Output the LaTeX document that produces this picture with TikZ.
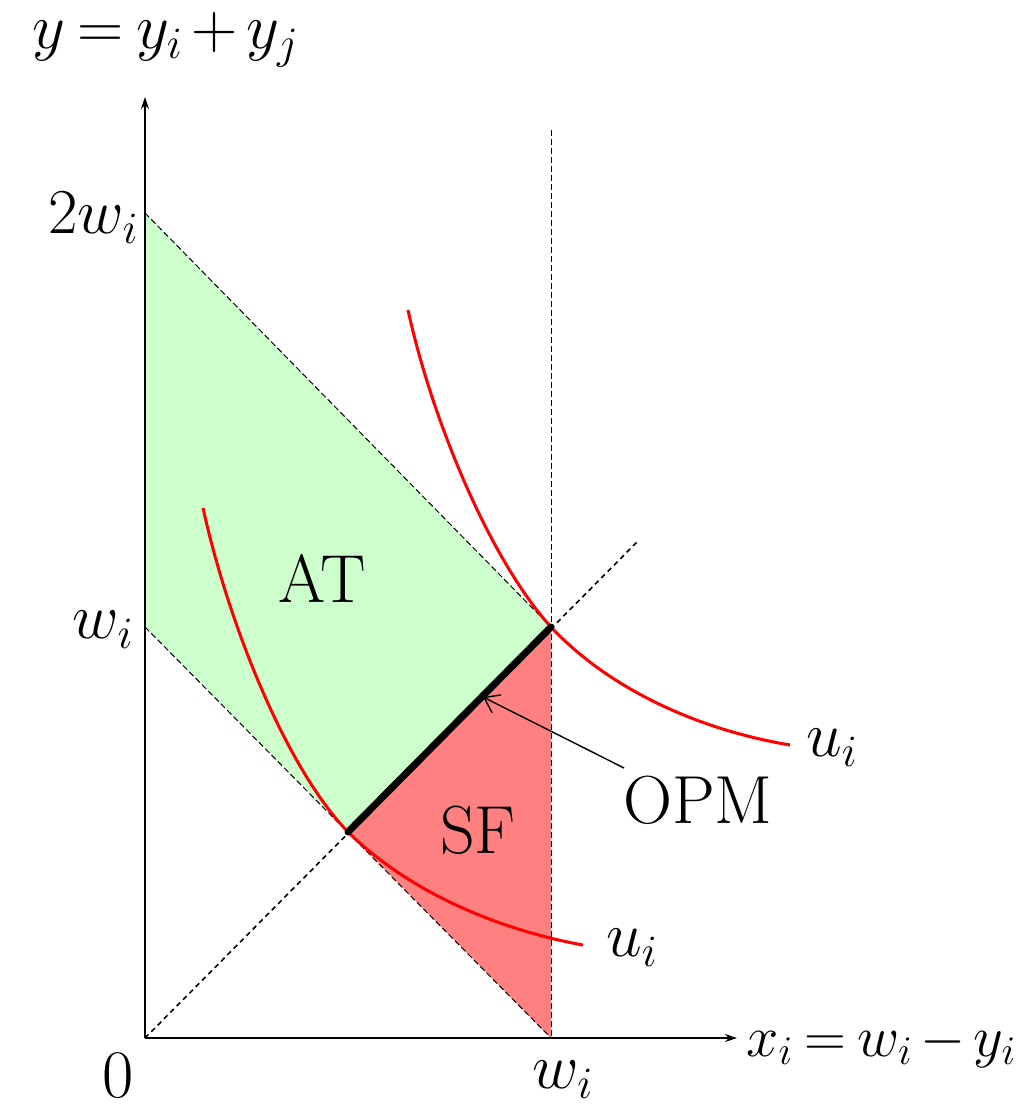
\RequirePackage{fix-cm}
\documentclass[tikz,border=0pt]{standalone}
\usetikzlibrary{arrows.meta}
\definecolor{atgreen}{RGB}{204,255,204}
\definecolor{sfred}{RGB}{255,128,128}
\newcommand{\tightmath}{\thickmuskip=3.5mu\relax\medmuskip=2.5mu\relax}
\begin{document}
\begin{tikzpicture}[x=0.5pt,y=-0.5pt,
  lbl/.style={font=\fontsize{34}{40}\selectfont, inner sep=0pt},
  mlbl/.style={font=\fontsize{32}{38}\selectfont, inner sep=0pt},
  axis/.style={black, line width=0.6pt, -{Stealth[length=6pt,width=4pt]}},
  guide/.style={black, line width=0.5pt, dash pattern=on 3pt off 1.5pt},
  diag/.style={black, line width=0.8pt, dash pattern=on 2.5pt off 2pt},
  curve/.style={red, line width=1.5pt},
  opm/.style={black, line width=3.5pt, line cap=round},
  pointer/.style={black, line width=0.7pt, -{Straight Barb[length=7pt,width=10pt]}}]
\useasboundingbox (0,0) rectangle (1019,1112);

% key points
\coordinate (O) at (145,1038);
\coordinate (Ytop) at (145,97);
\coordinate (Xend) at (737,1038);
\coordinate (A) at (145,213);   % 2w_i
\coordinate (B) at (145,627);   % w_i on y-axis
\coordinate (C) at (551,627);   % upper corner
\coordinate (D) at (348,832);   % lower corner
\coordinate (E) at (551,1038);  % w_i on x-axis
\coordinate (Vtop) at (551,130);
\coordinate (Dend) at (637,542);

% regions
\fill[atgreen] (A) -- (C) -- (D) -- (B) -- cycle;
\fill[sfred] (D) -- (C) -- (E) -- cycle;

% guides
\draw[guide] (A) -- (C);
\draw[guide] (B) -- (E);
\draw[guide] (Vtop) -- (E);
\draw[diag] (O) -- (Dend);

% axes
\draw[axis] (O) -- (Ytop);
\draw[axis] (O) -- (Xend);

% indifference curves
\draw[curve] (408,310) .. controls (432,420) and (490,560) .. (C)
  .. controls (610,690) and (700,730) .. (790,745);
\draw[curve] (203,508) .. controls (230,630) and (288,770) .. (D)
  .. controls (410,893) and (500,930) .. (583,945);

% OPM segment
\draw[opm] (D) -- (C);

% labels
\node[mlbl, anchor=west] (ylab) at (32,40) {$\tightmath y = y_i + y_j$};
\node[mlbl, anchor=east] (twow) at (139,218) {$2w_i$};
\node[mlbl, anchor=east] (wy) at (134,630) {$w_i$};
\node[lbl] (zero) at (118,1076) {0};
\node[mlbl] (wx) at (563,1080) {$w_i$};
\node[mlbl, font=\fontsize{29}{35}\selectfont, anchor=west] (xlab) at (746,1045) {$\tightmath x_i = w_i - y_i$};
\node[lbl] (at) at (322,578) {AT};
\node[lbl] (sf) at (478,830) {SF};
\node[lbl] (opmlab) at (698,800) {OPM};
\node[mlbl] (u1) at (832,748) {$u_i$};
\node[mlbl] (u2) at (632,948) {$u_i$};

\coordinate (opmstart) at (624,768);
\coordinate (opmpt) at (483,697);
\draw[pointer] (opmstart) -- (opmpt);
\end{tikzpicture}
\end{document}
